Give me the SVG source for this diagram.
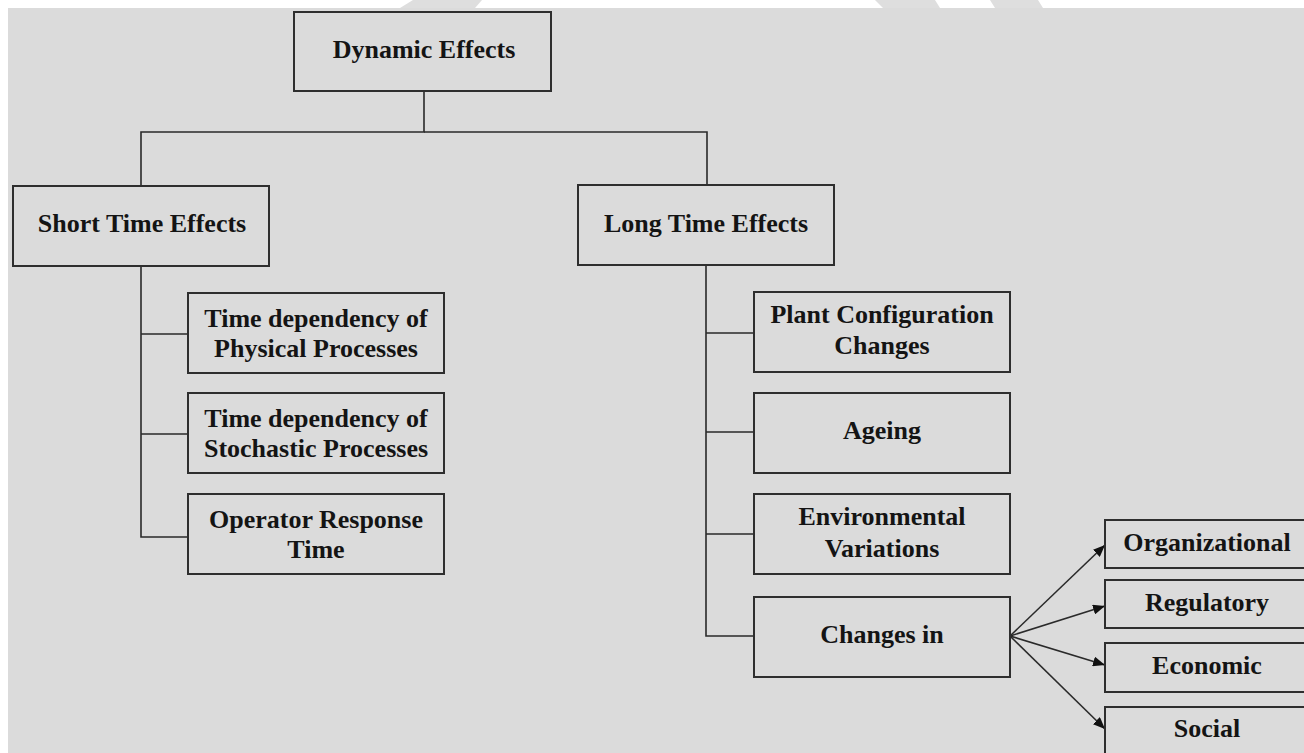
<svg xmlns="http://www.w3.org/2000/svg" width="1304" height="753" viewBox="0 0 1304 753">
<style>
.box{fill:none;stroke:#2e2e2e;stroke-width:2}
.conn{fill:none;stroke:#2a2a2a;stroke-width:1.6}
.t{font-family:"Liberation Serif","Times New Roman",serif;font-weight:bold;font-size:26px;fill:#141414;text-anchor:middle}
</style>
<defs>
<marker id="arr" viewBox="0 0 12 10" refX="12" refY="5" markerWidth="12" markerHeight="10" markerUnits="userSpaceOnUse" orient="auto">
<path d="M0,0 L12,5 L0,10 Z" fill="#111"/>
</marker>
</defs>
<rect x="0" y="0" width="1304" height="753" fill="#ffffff"/>
<rect x="8" y="8" width="1296" height="745" fill="#dbdbdb"/>
<g fill="#dedede">
<polygon points="413,0 482,0 475,8 400,8"/>
<polygon points="875,0 935,0 940,8 883,8"/>
<polygon points="990,0 1038,0 1043,8 995,8"/>
</g>
<g id="connectors">
<path class="conn" d="M424,91 V132 H141 V186"/>
<path class="conn" d="M424,132 H707 V185"/>
<path class="conn" d="M141,266 V537 H188 M141,334 H188 M141,434 H188"/>
<path class="conn" d="M706,265 V636 H754 M706,333 H754 M706,432 H754 M706,534 H754"/>
<path class="conn" d="M1010,636 L1105,545" marker-end="url(#arr)"/>
<path class="conn" d="M1010,636 L1105,606" marker-end="url(#arr)"/>
<path class="conn" d="M1010,636 L1105,665" marker-end="url(#arr)"/>
<path class="conn" d="M1010,636 L1105,729" marker-end="url(#arr)"/>
</g>
<g id="dynamic-effects">
<rect class="box" x="294" y="12" width="257" height="79"/>
<text class="t" x="424" y="58">Dynamic Effects</text>
</g>
<g id="short-time-effects">
<rect class="box" x="13" y="186" width="256" height="80"/>
<text class="t" x="142" y="232">Short Time Effects</text>
</g>
<g id="long-time-effects">
<rect class="box" x="578" y="185" width="256" height="80"/>
<text class="t" x="706" y="232">Long Time Effects</text>
</g>
<g id="physical-processes">
<rect class="box" x="188" y="293" width="256" height="80"/>
<text class="t" x="316" y="327">Time dependency of</text>
<text class="t" x="316" y="357">Physical Processes</text>
</g>
<g id="stochastic-processes">
<rect class="box" x="188" y="393" width="256" height="80"/>
<text class="t" x="316" y="427">Time dependency of</text>
<text class="t" x="316" y="457">Stochastic Processes</text>
</g>
<g id="operator-response">
<rect class="box" x="188" y="494" width="256" height="80"/>
<text class="t" x="316" y="528">Operator Response</text>
<text class="t" x="316" y="558">Time</text>
</g>
<g id="plant-configuration">
<rect class="box" x="754" y="292" width="256" height="80"/>
<text class="t" x="882" y="323">Plant Configuration</text>
<text class="t" x="882" y="354">Changes</text>
</g>
<g id="ageing">
<rect class="box" x="754" y="393" width="256" height="80"/>
<text class="t" x="882" y="439">Ageing</text>
</g>
<g id="environmental">
<rect class="box" x="754" y="494" width="256" height="80"/>
<text class="t" x="882" y="525">Environmental</text>
<text class="t" x="882" y="557">Variations</text>
</g>
<g id="changes-in">
<rect class="box" x="754" y="597" width="256" height="80"/>
<text class="t" x="882" y="643">Changes in</text>
</g>
<g id="organizational">
<rect class="box" x="1105" y="520" width="205" height="48"/>
<text class="t" x="1207" y="551">Organizational</text>
</g>
<g id="regulatory">
<rect class="box" x="1105" y="580" width="205" height="48"/>
<text class="t" x="1207" y="611">Regulatory</text>
</g>
<g id="economic">
<rect class="box" x="1105" y="643" width="205" height="49"/>
<text class="t" x="1207" y="674">Economic</text>
</g>
<g id="social">
<rect class="box" x="1105" y="707" width="205" height="60"/>
<text class="t" x="1207" y="737">Social</text>
</g>
</svg>
